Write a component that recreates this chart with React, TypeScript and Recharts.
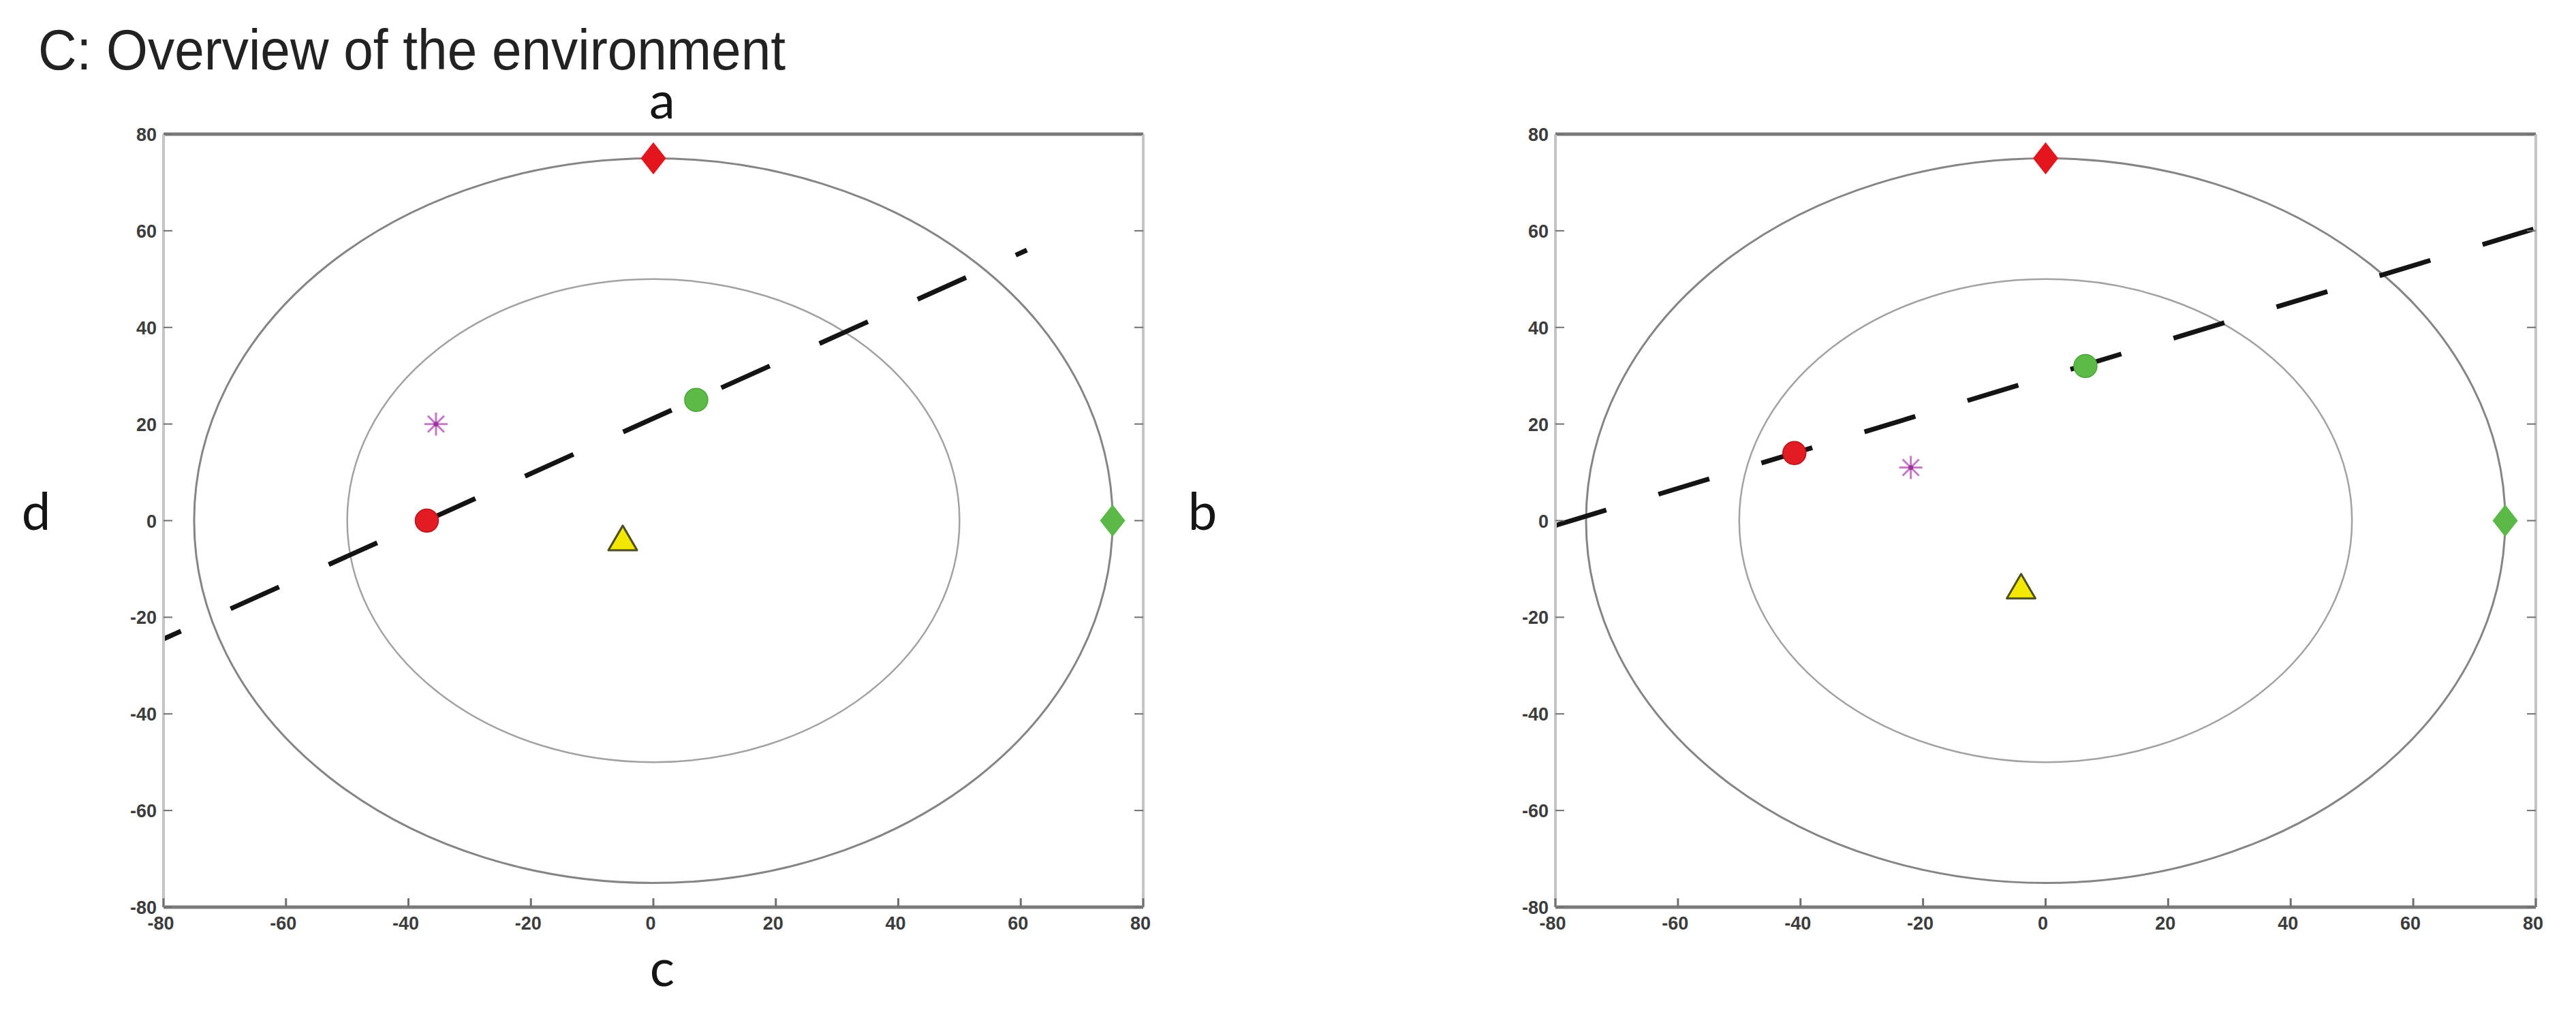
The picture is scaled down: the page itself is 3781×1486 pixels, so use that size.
import React from "react";
import { ScatterChart, Scatter, XAxis, YAxis, ReferenceLine, ReferenceArea } from "recharts";

// shared axis ticks and the two rings of the arena
const axisTicks = [-80, -60, -40, -20, 0, 20, 40, 60, 80];
const ringRadii = [75, 50];

// left panel
const leftTopCue = [{ x: 0, y: 75 }];
const leftSideCue = [{ x: 75, y: 0 }];
const leftRedDot = [{ x: -37, y: 0 }];
const leftGreenDot = [{ x: 7, y: 25 }];
const leftStar = [{ x: -35.5, y: 20 }];
const leftTriangle = [{ x: -5, y: -4 }];
const leftPath = [{ x: -80, y: -24.5 }, { x: 61, y: 56 }];

// right panel
const rightTopCue = [{ x: 0, y: 75 }];
const rightSideCue = [{ x: 75, y: 0 }];
const rightRedDot = [{ x: -41, y: 14 }];
const rightGreenDot = [{ x: 6.5, y: 32 }];
const rightStar = [{ x: -22, y: 11 }];
const rightTriangle = [{ x: -4, y: -14 }];
const rightPath = [{ x: -80, y: -1 }, { x: 80, y: 60.5 }];

const tickFont = {
    fontFamily: "'Liberation Sans', Arial, sans-serif",
    fontSize: 27,
    fontWeight: 700,
    fill: "#3c3c3c",
};
const tickStroke = "#707070";

// axes are 1px thick areas, so x/y handed to the tick renderers sit on the axis line
function BottomTick({ x, y, payload }: any) {
    return (
        <g>
            <line x1={x} y1={y} x2={x} y2={y - 13} stroke={tickStroke} strokeWidth={3} />
            <text x={x - 4} y={y + 33} textAnchor="middle" {...tickFont}>{payload.value}</text>
        </g>
    );
}

function TopTick({ x, y }: any) {
    return <line x1={x} y1={y} x2={x} y2={y + 13} stroke={tickStroke} strokeWidth={3} />;
}

function LeftTick({ x, y, payload }: any) {
    return (
        <g>
            <line x1={x} y1={y} x2={x + 13} y2={y} stroke={tickStroke} strokeWidth={2} />
            <text x={x - 10} y={y + 10} textAnchor="end" {...tickFont}>{payload.value}</text>
        </g>
    );
}

function RightTick({ x, y }: any) {
    return <line x1={x} y1={y} x2={x - 13} y2={y} stroke={tickStroke} strokeWidth={2} />;
}

function ring(stroke: string, width: number) {
    return (p: any) => (
        <ellipse
            cx={p.x + p.width / 2}
            cy={p.y + p.height / 2}
            rx={Math.abs(p.width) / 2}
            ry={Math.abs(p.height) / 2}
            fill="none"
            stroke={stroke}
            strokeWidth={width}
        />
    );
}

function diamond(color: string) {
    return (p: any) => {
        const { cx, cy } = p;
        return (
            <polygon
                points={`${cx},${cy - 23} ${cx + 18},${cy} ${cx},${cy + 23} ${cx - 18},${cy}`}
                fill={color}
                stroke={color}
                strokeWidth={1}
            />
        );
    };
}

function dot(color: string, edge: string) {
    return (p: any) => <circle cx={p.cx} cy={p.cy} r={17} fill={color} stroke={edge} strokeWidth={1.5} />;
}

const triangle = (p: any) => {
    const { cx, cy } = p;
    return (
        <polygon
            points={`${cx},${cy - 21} ${cx + 21},${cy + 15} ${cx - 21},${cy + 15}`}
            fill="#f3e900"
            stroke="#4f4f24"
            strokeWidth={3}
            strokeLinejoin="round"
        />
    );
};

const star = (p: any) => {
    const { cx, cy } = p;
    const arms = [[0, 17], [17, 0], [12, 12], [12, -12]];
    return (
        <g stroke="#c67ac6" strokeWidth={3}>
            {arms.map(([dx, dy], i) => (
                <line key={i} x1={cx - dx} y1={cy - dy} x2={cx + dx} y2={cy + dy} />
            ))}
            <circle cx={cx} cy={cy} r={3.5} fill="#98349a" stroke="none" />
        </g>
    );
};

interface PanelProps {
    width: number;
    marginRight: number;
    topCue: { x: number; y: number }[];
    sideCue: { x: number; y: number }[];
    redDot: { x: number; y: number }[];
    greenDot: { x: number; y: number }[];
    starPt: { x: number; y: number }[];
    trianglePt: { x: number; y: number }[];
    path: { x: number; y: number }[];
    dashOffset: number;
}

function Panel(props: PanelProps) {
    const { width, marginRight, topCue, sideCue, redDot, greenDot, starPt, trianglePt, path, dashOffset } = props;
    return (
        <ScatterChart width={width} height={1486} margin={{ top: 196, right: marginRight - 1, bottom: 153, left: 239 }}>
            <XAxis
                type="number"
                dataKey="x"
                domain={[-80, 80]}
                ticks={axisTicks}
                interval={0}
                height={1}
                tickSize={0}
                tickMargin={0}
                tickLine={false}
                tick={BottomTick}
                axisLine={{ stroke: "#7b7b7b", strokeWidth: 5 }}
                allowDataOverflow
            />
            <XAxis
                xAxisId="top"
                orientation="top"
                type="number"
                domain={[-80, 80]}
                ticks={axisTicks}
                interval={0}
                height={1}
                tickSize={0}
                tickMargin={0}
                tickLine={false}
                tick={TopTick}
                axisLine={{ stroke: "#7b7b7b", strokeWidth: 5 }}
                allowDataOverflow
            />
            <YAxis
                type="number"
                dataKey="y"
                domain={[-80, 80]}
                ticks={axisTicks}
                interval={0}
                width={1}
                tickSize={0}
                tickMargin={0}
                tickLine={false}
                tick={LeftTick}
                axisLine={{ stroke: "#c4c4c4", strokeWidth: 4 }}
                allowDataOverflow
            />
            <YAxis
                yAxisId="right"
                orientation="right"
                type="number"
                domain={[-80, 80]}
                ticks={axisTicks}
                interval={0}
                width={1}
                tickSize={0}
                tickMargin={0}
                tickLine={false}
                tick={RightTick}
                axisLine={{ stroke: "#c4c4c4", strokeWidth: 4 }}
                allowDataOverflow
            />
            {ringRadii.map((r, i) => (
                <ReferenceArea
                    key={r}
                    x1={-r}
                    x2={r}
                    y1={-r}
                    y2={r}
                    ifOverflow="visible"
                    shape={ring(i === 0 ? "#858585" : "#a2a2a2", i === 0 ? 3 : 2.5)}
                />
            ))}
            <Scatter data={topCue} shape={diamond("#e3161e")} isAnimationActive={false} />
            <Scatter data={sideCue} shape={diamond("#5bb947")} isAnimationActive={false} />
            <Scatter data={starPt} shape={star} isAnimationActive={false} />
            <Scatter data={trianglePt} shape={triangle} isAnimationActive={false} />
            <Scatter data={redDot} shape={dot("#e31b23", "#b5141a")} isAnimationActive={false} />
            <Scatter data={greenDot} shape={dot("#5cba46", "#4fa33c")} isAnimationActive={false} />
            <ReferenceLine
                segment={path}
                ifOverflow="visible"
                stroke="#141414"
                strokeWidth={7}
                strokeDasharray="78 80"
                strokeDashoffset={dashOffset}
            />
        </ScatterChart>
    );
}

const letterFont = { fontFamily: "Lato, 'Open Sans', sans-serif", fontSize: 76, fill: "#151515" };

export default function App() {
    return (
        <div style={{ position: "absolute", left: 0, top: 0, width: 3781, height: 1486, background: "#fff", overflow: "hidden" }}>
            <div style={{ position: "absolute", left: 0, top: 0 }}>
                <Panel
                    width={1800}
                    marginRight={122}
                    topCue={leftTopCue}
                    sideCue={leftSideCue}
                    redDot={leftRedDot}
                    greenDot={leftGreenDot}
                    starPt={leftStar}
                    trianglePt={leftTriangle}
                    path={leftPath}
                    dashOffset={50}
                />
            </div>
            <div style={{ position: "absolute", left: 2043, top: 0 }}>
                <Panel
                    width={1738}
                    marginRight={59}
                    topCue={rightTopCue}
                    sideCue={rightSideCue}
                    redDot={rightRedDot}
                    greenDot={rightGreenDot}
                    starPt={rightStar}
                    trianglePt={rightTriangle}
                    path={rightPath}
                    dashOffset={0}
                />
            </div>
            <svg width={3781} height={1486} style={{ position: "absolute", left: 0, top: 0, pointerEvents: "none" }}>
                <text
                    x={56}
                    y={102}
                    fontFamily="'Liberation Sans', Arial, sans-serif"
                    fontSize={84}
                    fill="#222"
                    textLength={1097}
                    lengthAdjust="spacingAndGlyphs"
                >
                    C: Overview of the environment
                </text>
                <text x={972} y={174} textAnchor="middle" {...letterFont}>a</text>
                <text x={1765} y={778} textAnchor="middle" {...letterFont}>b</text>
                <text x={972} y={1448} textAnchor="middle" {...letterFont}>c</text>
                <text x={53} y={778} textAnchor="middle" {...letterFont}>d</text>
            </svg>
        </div>
    );
}
